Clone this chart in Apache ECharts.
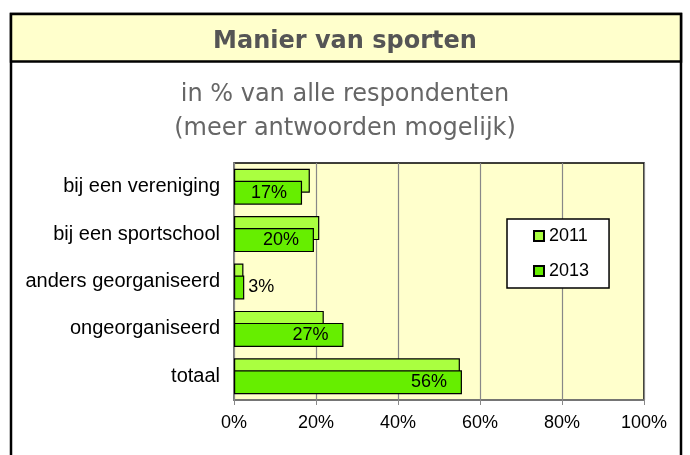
<!DOCTYPE html>
<html>
<head>
    <meta charset="utf-8">
    <title>Manier van sporten</title>
    <script src="https://cdn.jsdelivr.net/npm/echarts@6/dist/echarts.min.js"></script>
    <style>
        html, body { margin: 0; padding: 0; background: #fff; }
        #main { width: 690px; height: 455px; }
    </style>
</head>
<body>
<div id="main"></div>
<script>
    // gegevens
    var categorieen = ['bij een vereniging', 'bij een sportschool', 'anders georganiseerd', 'ongeorganiseerd', 'totaal'];
    var jaren = ['2011', '2013'];
    var waarden2011 = [18.5, 20.8, 2.3, 21.9, 55.1];
    var waarden2013 = [16.6, 19.5, 2.5, 26.7, 55.6];
    var asLabels = [0, 20, 40, 60, 80, 100];

    var arial = '"Liberation Sans", Arial, sans-serif';
    var verdana = '"DejaVu Sans", Verdana, sans-serif';

    var myChart = echarts.init(document.getElementById('main'));

    // kleine waarde: label buiten de balk
    var data2013 = waarden2013.map(function (v) {
        var item = { value: v };
        if (v < 5) {
            item.label = { position: 'right', distance: 4 };
        }
        return item;
    });

    myChart.setOption({
        animation: false,
        graphic: [
            {   // kader
                type: 'rect', z: -10,
                shape: { x: 11, y: 14, width: 670, height: 470 },
                style: { fill: '#fff', stroke: '#000', lineWidth: 2.5 }
            },
            {   // kopbalk
                type: 'rect', z: -9,
                shape: { x: 11, y: 14, width: 670, height: 47.5 },
                style: { fill: '#ffffcc', stroke: '#000', lineWidth: 2.5 }
            }
        ],
        title: [
            {
                text: 'Manier van sporten',
                left: 'center',
                top: 30,
                padding: 0,
                textStyle: { fontFamily: verdana, fontSize: 24, fontWeight: 'bold', color: '#555555' }
            },
            {
                text: 'in % van alle respondenten',
                left: 'center',
                top: 83,
                padding: 0,
                textStyle: { fontFamily: verdana, fontSize: 24, fontWeight: 'normal', color: '#666666' }
            },
            {
                text: '(meer antwoorden mogelijk)',
                left: 'center',
                top: 117,
                padding: 0,
                textStyle: { fontFamily: verdana, fontSize: 24, fontWeight: 'normal', color: '#666666' }
            }
        ],
        legend: {
            data: jaren,
            orient: 'vertical',
            left: 507,
            top: 219,
            padding: [8, 20, 8, 26],
            itemGap: 17,
            itemWidth: 10,
            itemHeight: 10,
            icon: 'rect',
            backgroundColor: '#ffffff',
            borderColor: '#000000',
            borderWidth: 1.5,
            textStyle: { fontFamily: arial, fontSize: 18, color: '#000', lineHeight: 18 }
        },
        grid: {
            left: 234, right: 46, top: 163, bottom: 55,
            show: true,
            backgroundColor: '#ffffcc',
            borderColor: '#000',
            borderWidth: 1.5
        },
        xAxis: {
            type: 'value',
            min: asLabels[0],
            max: asLabels[asLabels.length - 1],
            interval: 20,
            axisLine: { show: true, lineStyle: { color: '#888', width: 1.5 } },
            axisTick: { show: true, length: 5, lineStyle: { color: '#888' } },
            splitLine: { show: true, lineStyle: { color: '#888', width: 1.2 } },
            axisLabel: {
                formatter: '{value}%',
                fontFamily: arial, fontSize: 18, color: '#000', margin: 14
            }
        },
        yAxis: {
            type: 'category',
            inverse: true,
            data: categorieen,
            axisLine: { show: true, lineStyle: { color: '#888', width: 1.5 } },
            axisTick: { show: false },
            axisLabel: { fontFamily: arial, fontSize: 20, color: '#000', margin: 14 }
        },
        series: [
            {
                name: '2011',
                type: 'bar',
                data: waarden2011,
                barWidth: 24,
                barGap: '-50%',
                itemStyle: { color: '#aaff40', borderColor: '#000', borderWidth: 1.2 }
            },
            {
                name: '2013',
                type: 'bar',
                data: data2013,
                barWidth: 24,
                barGap: '-50%',
                itemStyle: { color: '#66ee00', borderColor: '#000', borderWidth: 1.2 },
                label: {
                    show: true,
                    position: 'insideRight',
                    distance: 15,
                    fontFamily: arial,
                    fontSize: 18,
                    color: '#000',
                    formatter: function (p) { return Math.round(p.value) + '%'; }
                }
            }
        ]
    });
</script>
</body>
</html>
